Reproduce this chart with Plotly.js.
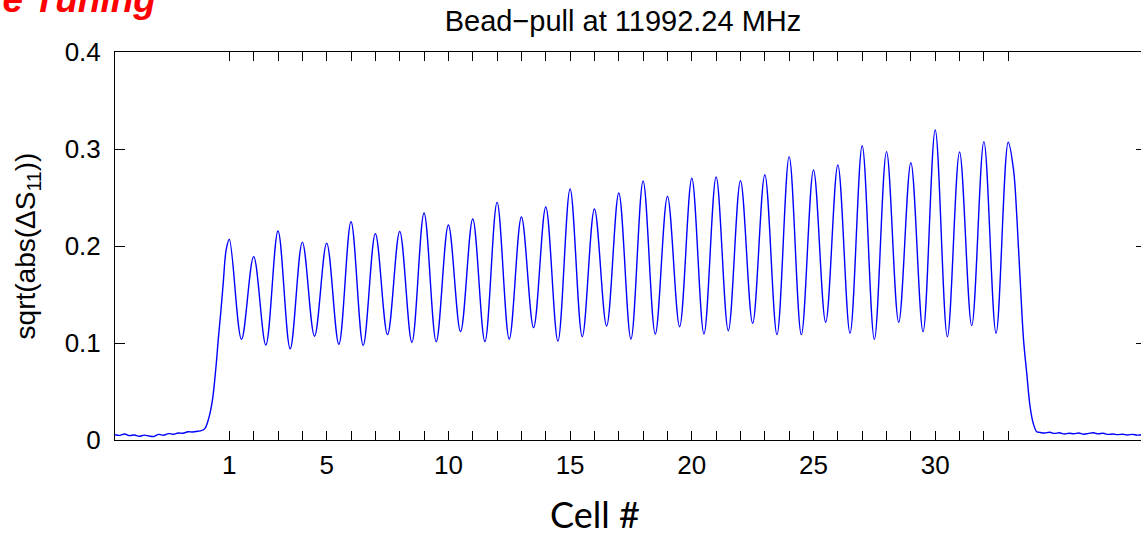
<!DOCTYPE html>
<html>
<head>
<meta charset="utf-8">
<script src="https://cdn.plot.ly/plotly-3.0.1.min.js"></script>
<style>
html, body { margin:0; padding:0; overflow:hidden; background:#fff; }
#chart { width:1146px; height:537px; }
</style>
</head>
<body>
<div id="chart"></div>
<script>
// Left noisy baseline (before the structure)
const leftBaseX = [-3.7,-3.5,-3.3,-3.1,-2.9,-2.7,-2.5,-2.3,-2.1,-1.9,-1.7,-1.5,-1.3,-1.1,-0.9,-0.7,-0.5,-0.3,-0.15];
const leftBaseY = [0.0055,0.0048,0.0062,0.0045,0.0052,0.0038,0.0050,0.0041,0.0036,0.0058,0.0049,0.0066,0.0060,0.0072,0.0070,0.0085,0.0082,0.0090,0.0096];
// Rising edge into cell 1
const riseX = [0.0,0.15,0.3,0.45,0.55,0.65,0.75,0.87];
const riseY = [0.012,0.022,0.040,0.075,0.105,0.132,0.162,0.196];
// Peak value at each cell
const peakCells = [1,2,3,4,5,6,7,8,9,10,11,12,13,14,15,16,17,18,19,20,21,22,23,24,25,26,27,28,29,30,31,32,33];
const peakVals = [0.207,0.189,0.2155,0.204,0.203,0.225,0.2127,0.215,0.234,0.2216,0.2278,0.245,0.2299,0.2402,0.2588,0.2381,0.2546,0.267,0.2512,0.2698,0.2711,0.2673,0.2735,0.2921,0.2784,0.2835,0.3034,0.2973,0.2859,0.3196,0.2969,0.3076,0.3069];
// Minimum between consecutive cells (cell n -> n+1)
const troughVals = [0.1038,0.098,0.094,0.107,0.0987,0.0976,0.1086,0.1007,0.1014,0.1117,0.1014,0.1041,0.1158,0.102,0.1065,0.1175,0.1041,0.1093,0.1168,0.1093,0.1127,0.1203,0.1086,0.1086,0.1213,0.11,0.1038,0.1213,0.1117,0.1065,0.1179,0.11];
// Falling edge after cell 33
const fallX = [33.22,33.36,33.49,33.63,33.76,33.90,34.03,34.17];
const fallY = [0.278,0.227,0.165,0.103,0.069,0.034,0.017,0.0086];
// Right noisy baseline
const rightBaseX = [34.3,34.5,34.7,34.9,35.1,35.3,35.5,35.7,35.9,36.1,36.3,36.5,36.7,36.9,37.1,37.3,37.5,37.7,37.9,38.1,38.3,38.5,38.7];
const rightBaseY = [0.0078,0.0072,0.0080,0.0068,0.0075,0.0062,0.0070,0.0064,0.0072,0.0060,0.0068,0.0074,0.0063,0.0070,0.0058,0.0062,0.0055,0.0060,0.0052,0.0058,0.0050,0.0054,0.0049];
// Tick labels
const xTickVals = peakCells;
const xTickLabeled = [1,5,10,15,20,25,30];
const yTickVals = [0,0.1,0.2,0.3,0.4];
const yTickText = ['0','0.1','0.2','0.3','0.4'];

// assemble trace
let xs = [].concat(leftBaseX, riseX);
let ys = [].concat(leftBaseY, riseY);
for (let i = 0; i < peakCells.length; i++) {
  xs.push(peakCells[i]); ys.push(peakVals[i]);
  if (i < troughVals.length) { xs.push(peakCells[i] + 0.5); ys.push(troughVals[i]); }
}
xs = xs.concat(fallX, rightBaseX);
ys = ys.concat(fallY, rightBaseY);

const FONT = 'Liberation Sans, Arial, Helvetica, sans-serif';
const W = 1146, H = 537, ML = 115, MR = 0, MT = 52, MB = 97;
const px2paperX = p => (p - ML) / (W - ML - MR);
const px2paperY = p => 1 - (p - MT) / (H - MT - MB);

const trace = {
  x: xs, y: ys, type: 'scatter', mode: 'lines',
  line: {color: '#0000ff', width: 1.4, shape: 'spline', smoothing: 1},
  hoverinfo: 'skip'
};

const layout = {
  width: W, height: H,
  margin: {l: ML, r: MR, t: MT, b: MB, pad: 0},
  paper_bgcolor: '#fff', plot_bgcolor: '#fff',
  showlegend: false,
  font: {family: FONT, color: '#000'},
  title: {
    text: 'Bead\u2212pull at 11992.24 MHz',
    font: {family: FONT, size: 29, color: '#000'},
    xref: 'paper', x: px2paperX(623), xanchor: 'center',
    yref: 'container', y: 1 - 21/H, yanchor: 'middle'
  },
  xaxis: {
    range: [-3.697, 38.66],
    tickmode: 'array', tickvals: xTickVals,
    ticktext: xTickVals.map(v => xTickLabeled.includes(v) ? String(v) : ''),
    ticks: 'inside', ticklen: 9, tickwidth: 1, tickcolor: '#000',
    showline: true, linecolor: '#000', linewidth: 1, mirror: 'ticks',
    showgrid: false, zeroline: false,
    tickfont: {family: FONT, size: 26, color: '#000'},
    ticklabelstandoff: 2
  },
  yaxis: {
    range: [0, 0.4],
    tickmode: 'array', tickvals: yTickVals, ticktext: yTickText,
    ticks: 'inside', ticklen: 10, tickwidth: 1, tickcolor: '#000',
    showline: true, linecolor: '#000', linewidth: 1, mirror: 'ticks',
    showgrid: false, zeroline: false,
    tickfont: {family: FONT, size: 26, color: '#000'},
    ticklabelstandoff: 8,
    title: {text: 'sqrt(abs(\u0394S<sub>11</sub>))', font: {family: FONT, size: 28, color: '#000'}, standoff: 20}
  },
  annotations: [
    {
      text: 'Cell #', xref: 'paper', yref: 'paper',
      x: px2paperX(595), y: px2paperY(514), xanchor: 'center', yanchor: 'middle',
      borderpad: 0,
      showarrow: false, font: {family: 'Lato, Open Sans, sans-serif', size: 36, color: '#000'}
    },
    {
      text: '<b><i>Phase Tuning</i></b>', xref: 'paper', yref: 'paper',
      x: px2paperX(158), y: px2paperY(22), xanchor: 'right', yanchor: 'bottom',
      showarrow: false, font: {family: FONT, size: 37, color: '#ff0000'}
    }
  ]
};

Plotly.newPlot('chart', [trace], layout, {displayModeBar: false, staticPlot: true});
</script>
</body>
</html>
